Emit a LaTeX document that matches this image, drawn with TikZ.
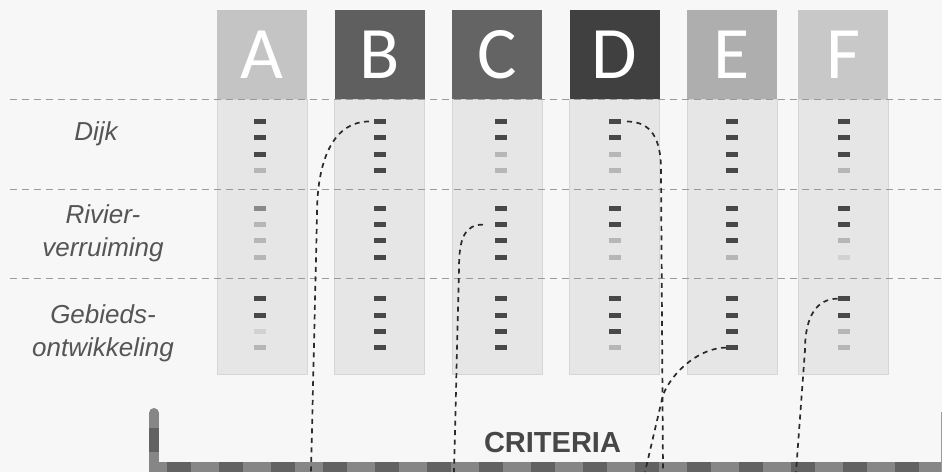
\documentclass[tikz,border=0pt]{standalone}
\usepackage{fontspec}
\setmainfont{Liberation Sans}
\newfontfamily\letterfont{Carlito}

\definecolor{bgcol}{HTML}{F7F7F7}
\definecolor{cellcol}{HTML}{E6E6E6}
\definecolor{cellline}{HTML}{D6D6D6}
\definecolor{gridcol}{HTML}{9A9A9A}
\definecolor{labelcol}{HTML}{555555}
\definecolor{linkcol}{HTML}{2A2A2A}
\definecolor{critcol}{HTML}{474747}
\definecolor{bracketlight}{HTML}{868686}
\definecolor{bracketdark}{HTML}{626262}
\definecolor{shd}{HTML}{484848}
\definecolor{shm}{HTML}{8A8A8A}
\definecolor{shl}{HTML}{B6B6B6}
\definecolor{shv}{HTML}{D2D2D2}
\definecolor{hdrA}{HTML}{C4C4C4}
\definecolor{hdrB}{HTML}{5F5F5F}
\definecolor{hdrC}{HTML}{646464}
\definecolor{hdrD}{HTML}{404040}
\definecolor{hdrE}{HTML}{AEAEAE}
\definecolor{hdrF}{HTML}{C8C8C8}

\begin{document}
\begin{tikzpicture}[x=1pt, y=-1pt, every node/.style={inner sep=0pt, outer sep=0pt},
	hdrbox/.style={minimum width=90pt, minimum height=89pt, text=white, font=\letterfont\fontsize{74}{74}\selectfont},
	cellbox/.style={fill=cellcol, draw=cellline, line width=0.8pt, minimum width=90pt, minimum height=275pt},
	scorebar/.style={minimum width=12pt, minimum height=5pt},
	rowlabel/.style={align=center, text=labelcol, font=\fontsize{26}{33}\selectfont\itshape},
	gridline/.style={draw=gridcol, line width=0.9pt, dash pattern=on 7pt off 5pt},
	link/.style={draw=linkcol, line width=1.7pt, dash pattern=on 5pt off 4.5pt}]
	\fill[bgcol] (0,0) rectangle (942,472);
	\useasboundingbox (0,0) rectangle (942,472);
	
	\foreach \n/\x/\bx/\c/\s in {A/262/260/hdrA/{d,d,d,l,m,l,l,l,d,d,v,l},
		B/379.5/380/hdrB/{d,d,d,d,d,d,d,d,d,d,d,d},
		C/497/501/hdrC/{d,d,l,l,d,d,d,d,d,d,d,d},
		D/614.5/615/hdrD/{d,d,l,l,d,d,l,l,d,d,d,l},
		E/732/732/hdrE/{d,d,d,d,d,d,d,l,d,d,d,d},
		F/843/843.5/hdrF/{d,d,d,l,d,d,l,v,d,d,l,l}} {
		\node[cellbox] (cell\n) at (\x,236.5) {};
		\node[hdrbox, fill=\c] (\n) at (\x,54.5) {\n};
		\foreach \t [count=\i from 0] in \s {
			\pgfmathsetmacro\by{121.5+16.3*mod(\i,4)+{0,86.8,177.2}[int(\i/4)]}
			\node[scorebar, fill=sh\t] (bar\n\i) at (\bx,\by) {};
		}
	}
	\foreach \y in {99,189,278} {
		\draw[gridline] (10,\y) -- (942,\y);
	}
	
	\node[rowlabel] (dijk) at (96,134) {Dijk};
	\node[rowlabel] (rivier) at (103,233) {Rivier-\\verruiming};
	\node[rowlabel] (gebied) at (103,333) {Gebieds-\\ontwikkeling};
	
	% criteria bracket
	\draw[bracketlight, line width=10pt, line cap=round] (154,413) -- (154,467) -- (950,467);
	\draw[bracketdark, line width=10pt, dash pattern=on 24pt off 28pt, dash phase=37pt] (154,413) -- (154,467) -- (950,467);
	\draw[gridcol, line width=0.8pt] (941,412) -- (941,472);
	\node[font=\bfseries\fontsize{29}{29}\selectfont, text=critcol] (crit) at (552.5,443) {CRITERIA};
	
	\coordinate (endB) at (311,472);
	\coordinate (endC) at (454,472);
	\coordinate (endD) at (663,472);
	\coordinate (endE) at (645,472);
	\coordinate (endF) at (796,472);
	\draw[link] ([xshift=-5pt]barB0.west) .. controls +(-33,0) and +(0,-60) .. (317,215) -- (endB);
	\draw[link] ([xshift=-12pt]barC5.west) .. controls +(-18,0) and +(0,-30) .. (459,268) -- (endC);
	\draw[link] ([xshift=6pt]barD0.east) .. controls +(25,0) and +(0,-30) .. (661,170) -- (endD);
	\draw[link] (barE11.west) .. controls +(-25,0) and +(10,-25) .. (663,395) -- (endE);
	\draw[link] (barF8.west) .. controls +(-20,0) and +(0,-35) .. (805,350) -- (endF);
	
\end{tikzpicture}
\end{document}
